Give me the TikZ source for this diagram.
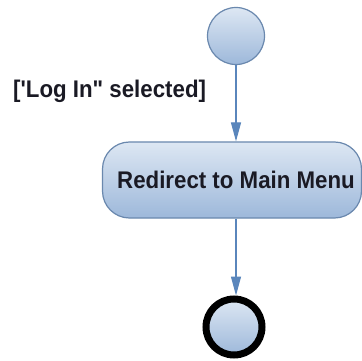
\documentclass[tikz,border=0pt]{standalone}
\usepackage{fontspec}
\usepackage{graphicx}
\newfontfamily\labelfont{Liberation Sans}
\usetikzlibrary{arrows.meta}
\definecolor{fillTop}{HTML}{DDE7F3}
\definecolor{fillBot}{HTML}{9DB8DA}
\definecolor{edgeBlue}{HTML}{6A88AE}
\definecolor{arrowBlue}{HTML}{5A86BC}
\definecolor{txt}{HTML}{1A1A24}
\newcommand{\tallbold}[1]{\scalebox{0.99}[1.07]{#1}}
\tikzset{
  uml/.style={top color=fillTop, bottom color=fillBot, draw=edgeBlue, line width=1.2pt},
  startnode/.style={uml, circle, minimum size=57pt, inner sep=0pt},
  endnode/.style={top color=fillTop, bottom color=fillBot, draw=black, line width=7pt, circle, minimum size=56pt, inner sep=0pt},
  actnode/.style={uml, rounded corners=27pt, minimum width=259pt, minimum height=76pt, inner sep=0pt},
  flow/.style={draw=arrowBlue, line width=1.2pt, -{Triangle[length=19pt, width=10pt]}},
  guard/.style={font=\labelfont\fontsize{22.5}{26}\selectfont\bfseries, text=txt, inner sep=0pt}
}
\begin{document}
\begin{tikzpicture}[x=1pt, y=-1pt]
\useasboundingbox (0,0) rectangle (362,361);
\fill[white] (0,0) rectangle (362,361);
\node[startnode] (start) at (236,36) {};
\node[actnode] (act) at (232,180) {};
\node[guard] (actlabel) at (236,180) {\tallbold{Redirect to Main Menu}};
\node[endnode] (end) at (234,327) {};
\node[guard, anchor=west] (g) at (13,91) {\tallbold{['Log In" selected]}};
\draw[flow] (start.south) -- (act.north -| start.south);
\draw[flow] (act.south -| start.south) -- (end.north -| start.south);
\end{tikzpicture}
\end{document}
